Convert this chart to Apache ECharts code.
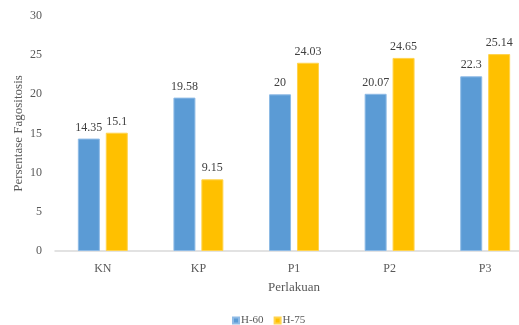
<!DOCTYPE html>
<html>
<head>
<meta charset="utf-8">
<script src="https://cdn.jsdelivr.net/npm/echarts@6/dist/echarts.min.js"></script>
<style>
  html, body { margin: 0; padding: 0; background: #fff; }
  #chart { width: 519px; height: 325px; }
</style>
</head>
<body>
<div id="chart"></div>
<script>
const categories = ['KN', 'KP', 'P1', 'P2', 'P3'];
const h60 = [14.35, 19.58, 20, 20.07, 22.3];
const h75 = [15.1, 9.15, 24.03, 24.65, 25.14];
const yTicks = { min: 0, max: 30, interval: 5 };

const font = '"Liberation Serif", "DejaVu Serif", serif';
const chart = echarts.init(document.getElementById('chart'));

const labelStyle = {
  show: true,
  position: 'top',
  distance: 5,
  fontFamily: font,
  fontSize: 12,
  color: '#404040'
};

chart.setOption({
  animation: false,
  textStyle: { fontFamily: font },
  // plot area runs past the right edge of the picture, as in the original
  grid: { left: 55, top: 16, width: 478, height: 235, outerBoundsMode: 'none' },
  legend: {
    top: 315,
    left: 232,
    padding: 0,
    itemWidth: 6,
    itemHeight: 6,
    itemGap: 10,
    icon: 'rect',
    textStyle: { fontFamily: font, fontSize: 11, color: '#595959', padding: [0, 0, 0, -3] },
    data: ['H-60', 'H-75']
  },
  xAxis: {
    type: 'category',
    data: categories,
    name: 'Perlakuan',
    nameLocation: 'middle',
    nameGap: 30,
    nameMoveOverlap: false,
    nameTextStyle: { fontFamily: font, fontSize: 13, color: '#595959' },
    axisLine: { lineStyle: { color: '#d9d9d9', width: 1.5 } },
    axisTick: { show: false },
    axisLabel: { fontFamily: font, fontSize: 12, color: '#595959', margin: 12 }
  },
  yAxis: {
    type: 'value',
    min: yTicks.min,
    max: yTicks.max,
    interval: yTicks.interval,
    name: 'Persentase Fagositosis',
    nameLocation: 'middle',
    nameGap: 30,
    nameMoveOverlap: false,
    nameTextStyle: { fontFamily: font, fontSize: 13, color: '#595959' },
    axisLine: { show: false },
    axisTick: { show: false },
    splitLine: { show: false },
    axisLabel: { fontFamily: font, fontSize: 12, color: '#595959', margin: 13 }
  },
  series: [
    {
      name: 'H-60',
      type: 'bar',
      data: h60,
      barWidth: 22,
      barGap: '27%',
      itemStyle: { color: '#5b9bd5', borderColor: '#8fbbe6', borderWidth: 1 },
      label: labelStyle
    },
    {
      name: 'H-75',
      type: 'bar',
      data: h75,
      barWidth: 22,
      itemStyle: { color: '#ffc000', borderColor: '#ffd34d', borderWidth: 1 },
      label: labelStyle
    }
  ]
});
</script>
</body>
</html>
